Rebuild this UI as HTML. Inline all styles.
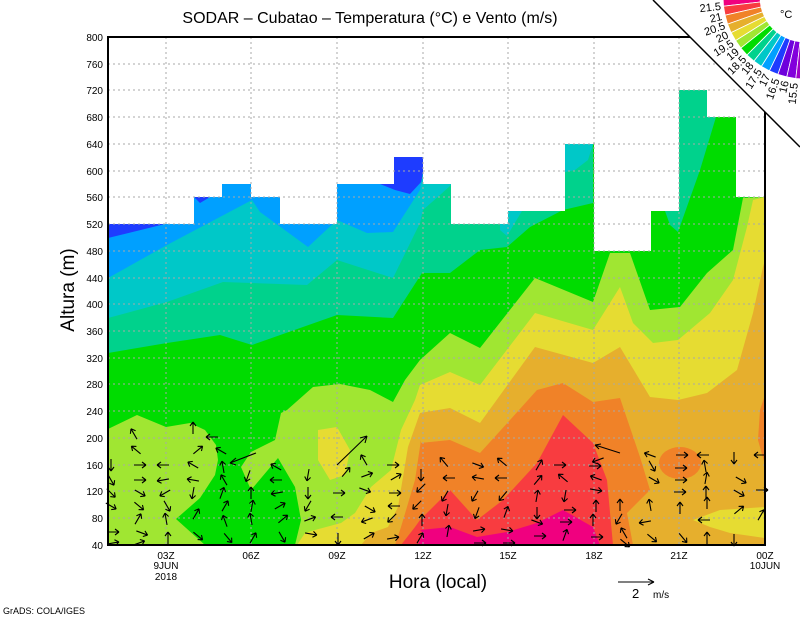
<!DOCTYPE html>
<html><head><meta charset="utf-8"><style>
html,body{margin:0;padding:0;background:#fff;}
svg{display:block;}
text{font-family:"Liberation Sans",sans-serif;fill:#000;}
</style></head><body>
<svg width="800" height="618" viewBox="0 0 800 618" xmlns="http://www.w3.org/2000/svg">
<defs>
<path id="a" d="M-6,0 L6,0 M6,0 L2,-3 M6,0 L2,3" stroke="#000" stroke-width="1.1" fill="none"/>
<clipPath id="pc"><rect x="108" y="37" width="657" height="508"/></clipPath>
</defs>
<g clip-path="url(#pc)">
<rect x="108" y="37" width="657" height="508" fill="#00a0ff"/>
<polygon fill="#1e3cff" points="108,224 165,224 108,238"/>
<polygon fill="#1e3cff" points="194,197 222,197 222,190 200,203"/>
<polygon fill="#1e3cff" points="380,184 394,184 394,157 423,157 423,180 410,194 395,190"/>
<polygon fill="#00c8c8" points="108,278 167,245 252,200 260,212 308,247 337,220 367,233 393,232 420,190 425,160 440,37 765,37 765,545 108,545"/>
<polygon fill="#00d28c" points="108,318 167,302 223,282 307,285 337,260 393,278 420,223 423,210 440,195 451,185 451,37 765,37 765,545 108,545"/>
<polygon fill="#00c8c8" points="500,211 522,211 507,236 500,230"/>
<polygon fill="#00c8c8" points="565,144 593,144 588,160 575,170 565,172"/>
<polygon fill="#00dc00" points="108,353 167,343 220,335 252,345 337,315 393,318 422,273 450,273 480,250 507,247 530,227 563,210 593,203 593,37 765,37 765,545 108,545"/>
<polygon fill="#00d28c" points="665,211 678,90 707,90 707,117 716,117 700,170 678,232 670,225"/>
<polygon fill="#a0e632" points="108,429 137,415 166,427 190,423 205,430 216,445 218,460 215,475 200,498 176,519 205,545 108,545"/>
<polygon fill="#a0e632" points="275,440 281,413 287,410 313,387 340,384 370,390 393,402 405,380 420,360 450,333 480,348 535,278 593,302 610,253 630,253 650,310 680,307 707,273 733,250 743,198 765,197 765,545 295,545 301,520 295,487 278,458 251,490 241,467 251,452"/>
<polygon fill="#e6dc32" points="318,430 337,427 350,450 345,475 330,480 318,460"/>
<polygon fill="#e6dc32" points="297,545 305,533 315,530 341,523 355,513 371,487 391,470 401,430 415,400 420,385 450,372 480,385 535,313 593,330 620,287 633,323 653,343 678,340 710,313 733,280 747,227 753,200 765,197 765,545"/>
<polygon fill="#e6af2d" points="361,545 371,533 388,527 398,507 408,447 420,413 450,408 480,423 535,347 593,363 620,347 650,397 678,400 707,393 737,370 753,313 763,267 765,260 765,545"/>
<polygon fill="#e6dc32" points="693,520 720,510 765,507 765,538 730,533 710,527"/>
<polygon fill="#f08228" points="395,545 401,527 415,480 421,440 420,443 450,440 480,453 510,420 537,390 563,383 593,402 620,398 640,457 650,490 627,513 633,545"/>
<ellipse cx="680" cy="463" rx="21" ry="16" fill="#f08228"/>
<polygon fill="#f08228" points="765,395 760,410 758,440 765,465"/>
<polygon fill="#f83c40" points="401,545 415,527 420,520 450,490 477,520 503,500 537,463 563,415 593,443 607,480 613,545"/>
<polygon fill="#f0007f" points="418,545 423,533 420,530 450,527 477,537 507,532 537,523 563,510 593,527 600,545"/>
<!-- white mask above data tops -->
<path fill="#fff" d="M108,37 H765 V197 H736 V117 H707 V90 H679 V211 H651 V251 H594 V144 H565 V211 H508 V224 H451 V184 H423 V157 H394 V184 H337 V224 H280 V197 H251 V184 H222 V197 H194 V224 H108 Z"/>
</g>
<!-- grid -->
<g stroke="#a8a8a8" stroke-width="1" stroke-dasharray="2,3" fill="none">
<path d="M108,64H765M108,90H765M108,117H765M108,144H765M108,171H765M108,197H765M108,224H765M108,251H765M108,278H765M108,304H765M108,331H765M108,358H765M108,384H765M108,411H765M108,438H765M108,465H765M108,491H765M108,518H765"/>
<path d="M166,37V545M251,37V545M337,37V545M423,37V545M508,37V545M594,37V545M679,37V545"/>
</g>
<!-- arrows -->
<g>
<use href="#a" transform="translate(111,465) rotate(90)"/><use href="#a" transform="translate(111,480) rotate(60)"/><use href="#a" transform="translate(111,493) rotate(45)"/><use href="#a" transform="translate(111,506) rotate(30)"/><use href="#a" transform="translate(113,532) rotate(0)"/><use href="#a" transform="translate(113,543) rotate(-10)"/>
<use href="#a" transform="translate(134,434) rotate(-120)"/><use href="#a" transform="translate(136,450) rotate(-140)"/><use href="#a" transform="translate(140,465) rotate(0)"/><use href="#a" transform="translate(140,480) rotate(0)"/><use href="#a" transform="translate(140,493) rotate(30)"/><use href="#a" transform="translate(139,506) rotate(40)"/><use href="#a" transform="translate(138,519) rotate(-60)"/><use href="#a" transform="translate(142,533) rotate(20)"/><use href="#a" transform="translate(139,543) rotate(-20)"/>
<use href="#a" transform="translate(163,465) rotate(180)"/><use href="#a" transform="translate(163,480) rotate(170)"/><use href="#a" transform="translate(165,493) rotate(150)"/><use href="#a" transform="translate(167,506) rotate(60)"/><use href="#a" transform="translate(166,519) rotate(-100)"/><use href="#a" transform="translate(168,538) rotate(-90)"/>
<use href="#a" transform="translate(193,428) rotate(-90)"/><use href="#a" transform="translate(198,450) rotate(-40)"/><use href="#a" transform="translate(193,465) rotate(-150)"/><use href="#a" transform="translate(193,480) rotate(-170)"/><use href="#a" transform="translate(193,493) rotate(100)"/><use href="#a" transform="translate(196,514) rotate(-60)"/><use href="#a" transform="translate(198,536) rotate(40)"/>
<use href="#a" transform="translate(212,437) rotate(180)"/><use href="#a" transform="translate(221,451) rotate(-150)"/><use href="#a" transform="translate(223,467) rotate(-100)"/><use href="#a" transform="translate(224,480) rotate(-120)"/><use href="#a" transform="translate(222,493) rotate(-70)"/><use href="#a" transform="translate(225,506) rotate(-60)"/><use href="#a" transform="translate(225,521) rotate(-110)"/><use href="#a" transform="translate(228,538) rotate(50)"/>
<path d="M256,453 L230,463 M230,463 L236,458 M230,463 L236,465" stroke="#000" stroke-width="1.1" fill="none"/>
<use href="#a" transform="translate(248,476) rotate(110)"/><use href="#a" transform="translate(251,493) rotate(-90)"/><use href="#a" transform="translate(252,506) rotate(-80)"/><use href="#a" transform="translate(251,519) rotate(-100)"/><use href="#a" transform="translate(253,538) rotate(-60)"/>
<use href="#a" transform="translate(276,467) rotate(-150)"/><use href="#a" transform="translate(276,480) rotate(180)"/><use href="#a" transform="translate(277,493) rotate(170)"/><use href="#a" transform="translate(280,506) rotate(-30)"/><use href="#a" transform="translate(283,519) rotate(-40)"/><use href="#a" transform="translate(282,537) rotate(60)"/>
<use href="#a" transform="translate(308,475) rotate(100)"/><use href="#a" transform="translate(308,493) rotate(90)"/><use href="#a" transform="translate(308,506) rotate(120)"/><use href="#a" transform="translate(310,519) rotate(-20)"/><use href="#a" transform="translate(311,534) rotate(10)"/>
<path d="M337,465 L367,436 M367,436 L360,438 M367,436 L365,443" stroke="#000" stroke-width="1.1" fill="none"/>
<use href="#a" transform="translate(346,472) rotate(-50)"/><use href="#a" transform="translate(339,493) rotate(0)"/><use href="#a" transform="translate(337,517) rotate(180)"/><use href="#a" transform="translate(338,539) rotate(90)"/>
<use href="#a" transform="translate(364,460) rotate(-120)"/><use href="#a" transform="translate(367,475) rotate(-20)"/><use href="#a" transform="translate(365,490) rotate(20)"/><use href="#a" transform="translate(370,509) rotate(30)"/><use href="#a" transform="translate(367,520) rotate(160)"/><use href="#a" transform="translate(369,536) rotate(-30)"/>
<use href="#a" transform="translate(393,465) rotate(0)"/><use href="#a" transform="translate(396,477) rotate(-30)"/><use href="#a" transform="translate(395,493) rotate(0)"/><use href="#a" transform="translate(394,506) rotate(180)"/><use href="#a" transform="translate(392,518) rotate(135)"/><use href="#a" transform="translate(393,538) rotate(-10)"/>
<use href="#a" transform="translate(421,475) rotate(90)"/><use href="#a" transform="translate(421,488) rotate(135)"/><use href="#a" transform="translate(417,505) rotate(135)"/><use href="#a" transform="translate(422,520) rotate(-90)"/><use href="#a" transform="translate(420,538) rotate(-60)"/>
<use href="#a" transform="translate(444,462) rotate(-130)"/><use href="#a" transform="translate(449,478) rotate(180)"/><use href="#a" transform="translate(445,496) rotate(120)"/><use href="#a" transform="translate(447,510) rotate(100)"/><use href="#a" transform="translate(448,531) rotate(-80)"/>
<use href="#a" transform="translate(478,465) rotate(20)"/><use href="#a" transform="translate(478,478) rotate(-170)"/><use href="#a" transform="translate(475,496) rotate(120)"/><use href="#a" transform="translate(477,513) rotate(110)"/><use href="#a" transform="translate(479,530) rotate(-10)"/><use href="#a" transform="translate(480,543) rotate(0)"/>
<use href="#a" transform="translate(502,462) rotate(-140)"/><use href="#a" transform="translate(501,478) rotate(180)"/><use href="#a" transform="translate(503,496) rotate(130)"/><use href="#a" transform="translate(506,512) rotate(-70)"/><use href="#a" transform="translate(507,530) rotate(10)"/><use href="#a" transform="translate(509,543) rotate(0)"/>
<use href="#a" transform="translate(539,465) rotate(-60)"/><use href="#a" transform="translate(538,480) rotate(-50)"/><use href="#a" transform="translate(537,496) rotate(-80)"/><use href="#a" transform="translate(537,513) rotate(90)"/><use href="#a" transform="translate(537,522) rotate(20)"/><use href="#a" transform="translate(540,536) rotate(0)"/>
<use href="#a" transform="translate(560,465) rotate(0)"/><use href="#a" transform="translate(563,478) rotate(-140)"/><use href="#a" transform="translate(565,496) rotate(100)"/><use href="#a" transform="translate(570,510) rotate(0)"/><use href="#a" transform="translate(566,522) rotate(0)"/><use href="#a" transform="translate(565,535) rotate(-70)"/>
<path d="M620,453 L595,445 M595,445 L601,444 M595,445 L599,449" stroke="#000" stroke-width="1.1" fill="none"/>
<use href="#a" transform="translate(598,460) rotate(160)"/><use href="#a" transform="translate(595,466) rotate(0)"/><use href="#a" transform="translate(596,478) rotate(-160)"/><use href="#a" transform="translate(596,490) rotate(10)"/><use href="#a" transform="translate(596,506) rotate(-90)"/><use href="#a" transform="translate(593,520) rotate(-90)"/><use href="#a" transform="translate(597,537) rotate(0)"/>
<use href="#a" transform="translate(620,505) rotate(-90)"/><use href="#a" transform="translate(619,519) rotate(120)"/><use href="#a" transform="translate(624,533) rotate(-120)"/><use href="#a" transform="translate(625,543) rotate(40)"/>
<use href="#a" transform="translate(650,455) rotate(-160)"/><use href="#a" transform="translate(652,466) rotate(60)"/><use href="#a" transform="translate(654,480) rotate(30)"/><use href="#a" transform="translate(650,505) rotate(-100)"/><use href="#a" transform="translate(645,522) rotate(170)"/><use href="#a" transform="translate(652,538) rotate(40)"/>
<use href="#a" transform="translate(682,455) rotate(0)"/><use href="#a" transform="translate(681,468) rotate(0)"/><use href="#a" transform="translate(681,480) rotate(0)"/><use href="#a" transform="translate(680,492) rotate(0)"/><use href="#a" transform="translate(680,508) rotate(-90)"/><use href="#a" transform="translate(683,538) rotate(50)"/>
<use href="#a" transform="translate(703,455) rotate(180)"/><use href="#a" transform="translate(705,466) rotate(-100)"/><use href="#a" transform="translate(706,478) rotate(-80)"/><use href="#a" transform="translate(706,492) rotate(-90)"/><use href="#a" transform="translate(707,503) rotate(-90)"/><use href="#a" transform="translate(704,520) rotate(180)"/><use href="#a" transform="translate(707,538) rotate(-90)"/>
<use href="#a" transform="translate(734,458) rotate(90)"/><use href="#a" transform="translate(741,480) rotate(30)"/><use href="#a" transform="translate(739,493) rotate(30)"/><use href="#a" transform="translate(739,510) rotate(-40)"/><use href="#a" transform="translate(734,540) rotate(90)"/>
<use href="#a" transform="translate(760,455) rotate(180)"/><use href="#a" transform="translate(762,490) rotate(0)"/><use href="#a" transform="translate(761,515) rotate(-60)"/>
</g>
<!-- frame -->
<rect x="108" y="37" width="657" height="508" fill="none" stroke="#000" stroke-width="2"/>
<!-- y labels -->
<g font-size="10" text-anchor="end">
<text x="103" y="41">800</text><text x="103" y="68">760</text><text x="103" y="94">720</text><text x="103" y="121">680</text><text x="103" y="148">640</text><text x="103" y="175">600</text><text x="103" y="201">560</text><text x="103" y="228">520</text><text x="103" y="255">480</text><text x="103" y="282">440</text><text x="103" y="308">400</text><text x="103" y="335">360</text><text x="103" y="362">320</text><text x="103" y="388">280</text><text x="103" y="415">240</text><text x="103" y="442">200</text><text x="103" y="469">160</text><text x="103" y="495">120</text><text x="103" y="522">80</text><text x="103" y="549">40</text>
</g>
<g font-size="10" text-anchor="middle">
<text x="166" y="559">03Z</text><text x="166" y="569">9JUN</text><text x="166" y="580">2018</text>
<text x="251" y="559">06Z</text><text x="337" y="559">09Z</text><text x="423" y="559">12Z</text><text x="508" y="559">15Z</text><text x="594" y="559">18Z</text><text x="679" y="559">21Z</text>
<text x="765" y="559">00Z</text><text x="765" y="569">10JUN</text>
</g>
<text x="370" y="23" font-size="16" text-anchor="middle">SODAR – Cubatao – Temperatura (°C) e Vento (m/s)</text>
<text x="438" y="588" font-size="19" text-anchor="middle">Hora (local)</text>
<text transform="translate(74,290) rotate(-90)" font-size="19" text-anchor="middle">Altura (m)</text>
<text x="3" y="614" font-size="9">GrADS: COLA/IGES</text>
<path d="M618,582 L654,582 M654,582 L648,579 M654,582 L648,585" stroke="#000" stroke-width="1.1" fill="none"/>
<text x="632" y="598" font-size="13">2</text><text x="653" y="598" font-size="10">m/s</text>
<!-- colorbar corner -->
<polygon points="653,0 800,0 800,147" fill="#fff"/>
<line x1="653" y1="0" x2="800" y2="147" stroke="#000" stroke-width="1.5"/>
<g stroke="#fff" stroke-width="0.8">
<polygon fill="#f0007f" points="760,-3 723,-3 723.5,6.2 760.3,2"/>
<polygon fill="#f83c40" points="760.3,2 723.5,6.2 725.1,15.2 761.1,7"/>
<polygon fill="#f08228" points="761.1,7 725.1,15.2 727.6,24.1 762.5,11.9"/>
<polygon fill="#e6af2d" points="762.5,11.9 727.6,24.1 731.1,32.6 764.5,16.5"/>
<polygon fill="#e6dc32" points="764.5,16.5 731.1,32.6 735.6,40.6 766.9,20.9"/>
<polygon fill="#a0e632" points="766.9,20.9 735.6,40.6 740.9,48.1 769.8,25.1"/>
<polygon fill="#00dc00" points="769.8,25.1 740.9,48.1 747,55 773.2,28.8"/>
<polygon fill="#00d28c" points="773.2,28.8 747,55 753.9,61.1 776.9,32.2"/>
<polygon fill="#00c8c8" points="776.9,32.2 753.9,61.1 761.4,66.4 781.1,35.1"/>
<polygon fill="#00a0ff" points="781.1,35.1 761.4,66.4 769.4,70.9 785.5,37.5"/>
<polygon fill="#1e3cff" points="785.5,37.5 769.4,70.9 777.9,74.4 790.1,39.5"/>
<polygon fill="#6e00dc" points="790.1,39.5 777.9,74.4 786.8,76.9 795,40.9"/>
<polygon fill="#8200dc" points="795,40.9 786.8,76.9 795.8,78.5 800,41.7"/>
<polygon fill="#a000c8" points="800,41.7 795.8,78.5 805,79 805,42"/>
</g>
<g font-size="11" text-anchor="end" dominant-baseline="middle">
<text transform="translate(721,7) rotate(-6)">21.5</text>
<text transform="translate(722,17) rotate(-13)">21</text>
<text transform="translate(725,26) rotate(-19)">20.5</text>
<text transform="translate(728,35) rotate(-26)">20</text>
<text transform="translate(733,43) rotate(-32)">19.5</text>
<text transform="translate(738,51) rotate(-39)">19</text>
<text transform="translate(745,58) rotate(-45)">18.5</text>
<text transform="translate(752,64) rotate(-51)">18</text>
<text transform="translate(760,70) rotate(-58)">17.5</text>
<text transform="translate(768,75) rotate(-64)">17</text>
<text transform="translate(777,79) rotate(-71)">16.5</text>
<text transform="translate(786,81) rotate(-77)">16</text>
<text transform="translate(795,83) rotate(-84)">15.5</text>
</g>
<text x="780" y="18" font-size="11">°C</text>
</svg>
</body></html>
